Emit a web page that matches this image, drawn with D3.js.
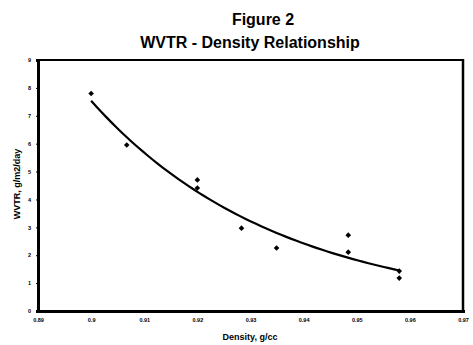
<!DOCTYPE html>
<html><head><meta charset="utf-8">
<script src="https://cdn.jsdelivr.net/npm/d3@7"></script>
<style>html,body{margin:0;padding:0;background:#fff;}svg{display:block;font-family:"Liberation Sans",Arial,sans-serif;}</style>
</head><body>
<svg id="c" width="473" height="345"></svg>
<script>
const density = [0.900, 0.9067, 0.920, 0.920, 0.9283, 0.9349, 0.9484, 0.9484, 0.958, 0.958];
const wvtr    = [7.80, 5.95, 4.70, 4.41, 2.97, 2.26, 2.72, 2.11, 1.43, 1.18];
const xTicks = [0.89, 0.90, 0.91, 0.92, 0.93, 0.94, 0.95, 0.96, 0.97];
const xTickLabels = ["0.89","0.9","0.91","0.92","0.93","0.94","0.95","0.96","0.97"];
const yTicks = [0,1,2,3,4,5,6,7,8,9];

const svg = d3.select("#c");
const L = 38, R = 463, T = 60, B = 311;
const x = d3.scaleLinear().domain([0.89, 0.97]).range([L, R]);
const y = d3.scaleLinear().domain([0, 9]).range([B, T]);

svg.append("text").attr("x", 263).attr("y", 25).attr("text-anchor","middle")
  .attr("font-size", 16).attr("font-weight","bold").text("Figure 2");
svg.append("text").attr("x", 250).attr("y", 48).attr("text-anchor","middle")
  .attr("font-size", 16).attr("font-weight","bold").text("WVTR - Density Relationship");

// frame
svg.append("line").attr("x1",L).attr("x2",R).attr("y1",T).attr("y2",T).attr("stroke","#000").attr("stroke-width",2);
svg.append("line").attr("x1",R).attr("x2",R).attr("y1",T-1).attr("y2",B).attr("stroke","#000").attr("stroke-width",2.5);

const xa = svg.append("g").attr("transform",`translate(0,${B})`)
  .call(d3.axisBottom(x).tickValues(xTicks).tickFormat((d,i)=>xTickLabels[i]).tickSize(2).tickPadding(5));
const ya = svg.append("g").attr("transform",`translate(${L},0)`)
  .call(d3.axisLeft(y).tickValues(yTicks).tickSize(2).tickPadding(5));
[xa, ya].forEach(g => {
  g.select(".domain").attr("stroke-width",3);
  g.selectAll("text").attr("font-size",5.5).attr("font-weight","bold").attr("font-family","Liberation Sans, Arial, sans-serif");
});

svg.append("text").attr("x", 250).attr("y", 340).attr("text-anchor","middle")
  .attr("font-size", 9).attr("font-weight","bold").text("Density, g/cc");
svg.append("text").attr("transform","translate(20,184) rotate(-90)").attr("text-anchor","middle")
  .attr("font-size", 9).attr("font-weight","bold").text("WVTR, g/m2/day");

// exponential trendline fitted on data
const n = density.length;
const lx = density, ly = wvtr.map(Math.log);
const mx = d3.mean(lx), my = d3.mean(ly);
const b = d3.sum(lx.map((v,i)=>(v-mx)*(ly[i]-my))) / d3.sum(lx.map(v=>(v-mx)*(v-mx)));
const a = Math.exp(my - b*mx);
const x0 = d3.min(density), x1 = d3.max(density);
const curve = d3.range(0, 61).map(i => { const xv = x0 + (x1-x0)*i/60; return [xv, a*Math.exp(b*xv)]; });
svg.append("path").datum(curve).attr("fill","none").attr("stroke","#000").attr("stroke-width",2.2)
  .attr("d", d3.line().x(d=>x(d[0])).y(d=>y(d[1])));

svg.append("g").selectAll("path").data(density).join("path")
  .attr("transform",(d,i)=>`translate(${x(d)},${y(wvtr[i])})`)
  .attr("d", d3.symbol().type(d3.symbolDiamond2).size(20)).attr("fill","#000");
</script>
</body></html>
